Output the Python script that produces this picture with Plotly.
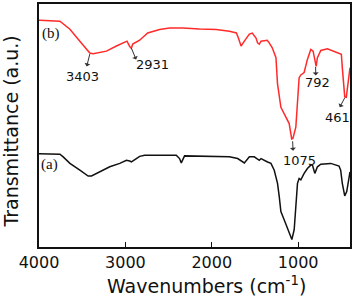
import plotly.graph_objects as go

# Curve (b) - red
wn_b = [4000, 3988, 3758, 3642, 3527, 3412, 3373, 3219, 3104, 3008, 2981, 2950, 2931, 2915,
        2835, 2742, 2604, 2489, 2338, 2142, 1950, 1796, 1715, 1692, 1661, 1623, 1565, 1531,
        1488, 1470, 1450, 1430, 1358, 1335, 1300, 1257, 1239, 1200, 1142, 1104, 1075, 1061,
        1027, 1008, 989, 969, 931, 893, 854, 827, 804, 792, 777, 738, 662, 585, 527, 500,
        489, 461, 443, 412, 400]
t_b = [93.3, 93.3, 92.9, 89.6, 84.7, 79.8, 79.5, 80.6, 82.7, 84.4, 84.7, 82.5, 81.8, 83.5,
       85.1, 88.1, 89.5, 90.1, 90.1, 89.7, 89.5, 88.8, 88.1, 86.0, 82.7, 84.7, 87.6, 88.0,
       86.0, 84.0, 83.5, 84.7, 85.1, 84.0, 82.0, 77.9, 67.1, 57.5, 53.4, 50.8, 44.5, 44.7,
       49.3, 60.2, 69.7, 70.8, 71.8, 77.2, 81.3, 80.6, 76.0, 74.3, 77.9, 80.9, 81.6, 80.6, 79.7, 79.3,
       73.8, 61.8, 61.6, 69.7, 73.8]

# Curve (a) - black
wn_a = [4000, 3988, 3758, 3720, 3642, 3527, 3431, 3392, 3296, 3181, 3065, 2988, 2950, 2930,
        2873, 2835, 2777, 2719, 2411, 2373, 2353, 2315, 2142, 1950, 1796, 1700, 1623, 1565,
        1527, 1508, 1450, 1430, 1354, 1315, 1277, 1239, 1219, 1200, 1162, 1124, 1085, 1073,
        1046, 1027, 1008, 989, 969, 931, 893, 854, 835, 807, 777, 738, 623, 527, 508, 489,
        461, 438, 412, 400]
t_a = [38.4, 38.4, 38.2, 37.1, 34.4, 31.6, 29.2, 29.2, 30.9, 33.0, 34.4, 35.7, 35.4, 35.0,
       36.4, 37.3, 37.8, 37.8, 37.8, 36.4, 34.6, 37.5, 37.3, 37.1, 37.1, 36.4, 34.6, 37.1,
       37.3, 37.1, 35.7, 36.4, 35.0, 34.4, 31.6, 26.2, 20.7, 14.6, 11.2, 7.8, 3.8, 3.1,
       7.1, 16.7, 26.2, 28.2, 27.6, 30.3, 32.3, 33.7, 33.7, 30.3, 33.0, 34.1, 34.4, 33.3, 31.6, 26.2,
       21.0, 22.8, 28.9, 30.9]

x_ticks = [4000, 3000, 2000, 1000]

# peak labels: text, curve point (tail), arrow head, label position
peak_text = ["3403", "2931", "792", "461", "1075"]
peak_tail = [(3412, 79.4), (2930, 81.8), (798, 74.1), (461, 61.4), (1064, 43.5)]
peak_head = [(3452, 73.7), (2869, 76.5), (796, 70.0), (527, 56.9), (1058, 39.0)]
peak_label = [(3492, 70.0), (2685, 75.3), (781, 67.6), (550, 53.3), (989, 35.7)]

curve_names = ["(b)", "(a)"]
curve_name_pos = [(3862, 88.0), (3873, 34.1)]

fig = go.Figure()
fig.add_trace(go.Scatter(x=wn_a, y=t_a, mode="lines",
                         line=dict(color="#111111", width=1.5), showlegend=False))
fig.add_trace(go.Scatter(x=wn_b, y=t_b, mode="lines",
                         line=dict(color="#ff2a2a", width=1.5), showlegend=False))

anns = []
for txt, tail, head, lab in zip(peak_text, peak_tail, peak_head, peak_label):
    anns.append(dict(x=tail[0], y=tail[1], ax=head[0], ay=head[1], xref="x", yref="y",
                     axref="x", ayref="y", text="", showarrow=True, arrowside="start",
                     arrowhead=5, arrowsize=1.1, arrowwidth=1, arrowcolor="#333333"))
    anns.append(dict(x=lab[0], y=lab[1], xref="x", yref="y", text=txt, showarrow=False,
                     font=dict(family="DejaVu Sans", size=13, color="#111111")))
for name, pos in zip(curve_names, curve_name_pos):
    anns.append(dict(x=pos[0], y=pos[1], xref="x", yref="y", text=name, showarrow=False,
                     font=dict(family="Liberation Serif", size=15, color="#111111")))

anns.append(dict(x=0.5, y=-0.155, xref="paper", yref="paper", yanchor="middle",
                 text="Wavenumbers (cm<sup>-1</sup>)", showarrow=False, xshift=12,
                 font=dict(family="DejaVu Sans", size=19, color="#111111")))
anns.append(dict(x=-0.09, y=0.475, xref="paper", yref="paper", textangle=-90,
                 text="Transmittance (a.u.)", showarrow=False, xanchor="center",
                 font=dict(family="DejaVu Sans", size=19, color="#111111")))

fig.update_layout(
    width=354, height=302,
    margin=dict(l=39, r=3, t=2, b=55),
    paper_bgcolor="white", plot_bgcolor="white",
    annotations=anns,
    xaxis=dict(range=[4000, 400], tickvals=x_ticks, ticktext=[str(v) for v in x_ticks],
               ticks="inside", ticklen=5, tickwidth=1.2, tickcolor="#111111",
               showline=True, linecolor="#111111", linewidth=1.5, mirror=True,
               showgrid=False, zeroline=False, ticklabelstandoff=0,
               tickfont=dict(family="DejaVu Sans", size=16, color="#111111")),
    yaxis=dict(range=[0, 100], showticklabels=False, ticks="",
               showline=True, linecolor="#111111", linewidth=1.5, mirror=True,
               showgrid=False, zeroline=False),
)

fig.write_html("out.html", config={"displayModeBar": False},
               post_script="document.body.style.margin='0';document.body.style.overflow='hidden';")
